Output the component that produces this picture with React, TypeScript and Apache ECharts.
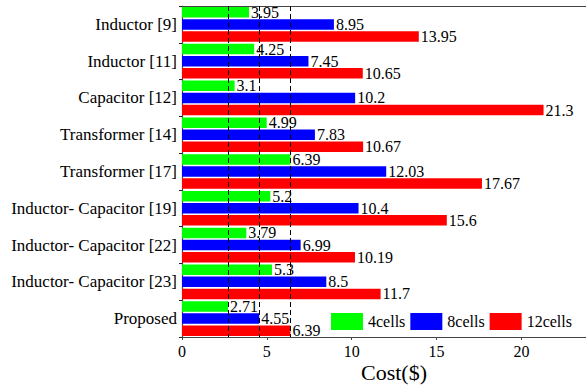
import React, { useEffect, useRef } from "react";
import * as echarts from "echarts";

const categories = [
  "Inductor [9]",
  "Inductor [11]",
  "Capacitor [12]",
  "Transformer [14]",
  "Transformer [17]",
  "Inductor- Capacitor [19]",
  "Inductor- Capacitor [22]",
  "Inductor- Capacitor [23]",
  "Proposed",
];
const cells4 = [3.95, 4.25, 3.1, 4.99, 6.39, 5.2, 3.79, 5.3, 2.71];
const cells8 = [8.95, 7.45, 10.2, 7.83, 12.03, 10.4, 6.99, 8.5, 4.55];
const cells12 = [13.95, 10.65, 21.3, 10.67, 17.67, 15.6, 10.19, 11.7, 6.39];
const referenceLines = [2.71, 4.55, 6.39];
const xTicks = [0, 5, 10, 15, 20];

const FONT = "'Liberation Serif', 'Times New Roman', serif";

export default function App() {
  const ref = useRef<HTMLDivElement>(null);

  useEffect(() => {
    if (!ref.current) return;
    const chart = echarts.init(ref.current, undefined, { renderer: "svg" });

    const label = {
      show: true,
      position: "right" as const,
      distance: 2,
      color: "#000",
      fontFamily: FONT,
      fontSize: 16,
    };

    const mkSeries = (name: string, data: number[], color: string, extra: any = {}) => ({
      name,
      type: "bar",
      data,
      barWidth: 10.5,
      barGap: "15%",
      itemStyle: { color },
      label,
      ...extra,
    });

    chart.setOption({
      animation: false,
      textStyle: { fontFamily: FONT },
      grid: { left: 182, top: 6, width: 404, bottom: 49, containLabel: false },
      legend: {
        data: ["4cells", "8cells", "12cells"],
        left: 331,
        top: 313,
        padding: 0,
        itemWidth: 32,
        itemHeight: 17,
        itemGap: 5,
        textStyle: { fontFamily: FONT, fontSize: 16, color: "#000" },
        icon: "rect",
      },
      xAxis: [
        {
          type: "value",
          min: 0,
          max: 23.8,
          interval: 5,
          position: "bottom",
          axisLine: { show: true, lineStyle: { color: "#444", width: 1.2 } },
          axisTick: { show: true, length: 3, lineStyle: { color: "#444" } },
          axisLabel: {
            color: "#000",
            fontFamily: FONT,
            fontSize: 16,
            margin: 6,
            customValues: xTicks,
            formatter: (v: number) => (xTicks.includes(v) ? String(v) : ""),
          },
          splitLine: { show: false },
        },
        {
          type: "value",
          min: 0,
          max: 23.8,
          position: "top",
          axisLine: { show: true, onZero: false, lineStyle: { color: "#444", width: 1.2 } },
          axisTick: { show: false },
          axisLabel: { show: false },
          splitLine: { show: false },
        },
      ],
      yAxis: {
        type: "category",
        data: categories,
        inverse: true,
        axisLine: { show: true, lineStyle: { color: "#444", width: 1.2 } },
        axisTick: { show: true, length: 3, lineStyle: { color: "#222" } },
        axisLabel: {
          color: "#000",
          fontFamily: FONT,
          fontSize: 17,
          margin: 5,
        },
      },
      graphic: [
        {
          type: "text",
          x: 394,
          y: 372,
          style: {
            text: "Cost($)",
            fontFamily: FONT,
            fontSize: 22,
            fill: "#000",
            align: "center",
            verticalAlign: "middle",
          },
        },
      ],
      series: [
        mkSeries("4cells", cells4, "#00ff00", {
          markLine: {
            silent: true,
            symbol: "none",
            label: { show: false },
            lineStyle: { color: "#000", type: [5, 3], width: 1 },
            data: referenceLines.map((v) => ({ xAxis: v })),
          },
        }),
        mkSeries("8cells", cells8, "#0000ff"),
        mkSeries("12cells", cells12, "#ff0000"),
      ],
    });

    return () => chart.dispose();
  }, []);

  return <div ref={ref} style={{ width: 586, height: 386, position: "absolute", left: 0, top: 0 }} />;
}
